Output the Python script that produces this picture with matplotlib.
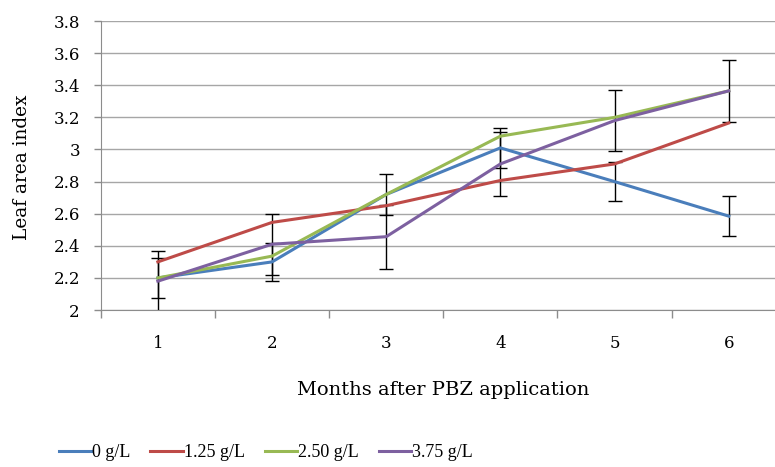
import numpy as np
import matplotlib.pyplot as plt

months = [1, 2, 3, 4, 5, 6]
labels = ['0 g/L', '1.25 g/L', '2.50 g/L', '3.75 g/L']
lai_0 = [2.20, 2.30, 2.72, 3.01, 2.80, 2.585]
lai_125 = [2.30, 2.546, 2.65, 2.807, 2.91, 3.165]
lai_250 = [2.20, 2.336, 2.72, 3.083, 3.20, 3.365]
lai_375 = [2.18, 2.41, 2.457, 2.91, 3.18, 3.365]
err_0 = [0.125, 0.12, 0.13, 0.125, 0.12, 0.125]
err_375 = [0.19, 0.19, 0.20, 0.20, 0.19, 0.195]
colors = ['#4A7EBB', '#BE4B48', '#98B954', '#7D60A0']

plt.rcParams['font.family'] = ['DejaVu Serif']

fig = plt.figure(figsize=(7.75, 4.67), dpi=100)
ax = fig.add_axes([0.130, 0.336, 0.884, 0.619])

x = np.array(months)
ax.errorbar(x, lai_0, yerr=err_0, fmt='none', ecolor='black', elinewidth=1,
            capsize=5, capthick=1, zorder=2)
ax.errorbar(x, lai_375, yerr=err_375, fmt='none', ecolor='black', elinewidth=1,
            capsize=5, capthick=1, zorder=2)
series = [lai_0, lai_125, lai_250, lai_375]
for s, c, lab in zip(series, colors, labels):
    ax.plot(x, s, color=c, lw=2.2, label=lab, zorder=3)

ax.set_xlim(0.5, 6.5)
ax.set_ylim(2, 3.8)
ax.set_yticks(np.arange(2, 3.81, 0.2))
ax.set_yticklabels(['2', '2.2', '2.4', '2.6', '2.8', '3', '3.2', '3.4', '3.6', '3.8'])
ax.set_xticks(np.arange(0.5, 6.6, 1))
ax.set_xticklabels([])
ax.set_xticks(x, minor=True)
ax.set_xticklabels([str(m) for m in months], minor=True)
ax.tick_params(axis='x', which='major', length=6, color='#8c8c8c', width=1)
ax.tick_params(axis='x', which='minor', length=0, pad=18, labelsize=12)
ax.tick_params(axis='y', length=5, color='#8c8c8c', width=1, labelsize=12, pad=10)

ax.grid(axis='y', color='#a6a6a6', lw=1)
ax.set_axisbelow(True)
for sp in ['top', 'right']:
    ax.spines[sp].set_visible(False)
ax.spines['left'].set_color('#8c8c8c')
ax.spines['bottom'].set_color('#8c8c8c')

fig.text(0.028, 0.641, 'Leaf area index', rotation=90, ha='center', va='center',
         fontsize=13.3)
fig.text(0.572, 0.165, 'Months after PBZ application', ha='center', va='center',
         fontsize=14)

fig.legend(loc='center', bbox_to_anchor=(0.343, 0.03), ncol=4, frameon=False,
           prop={'family': 'Liberation Serif', 'size': 13},
           handlelength=1.8, handletextpad=0.05, columnspacing=1.1)

fig.savefig('out.png', dpi=100)
